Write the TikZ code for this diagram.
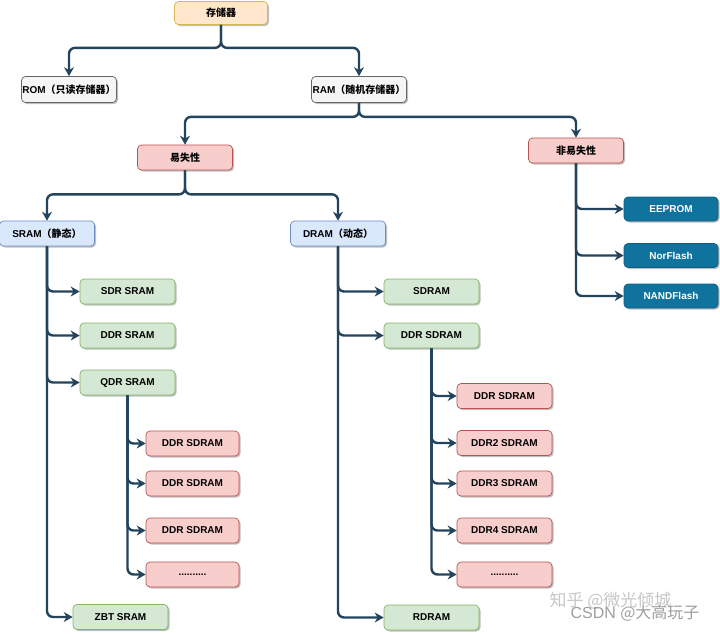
\documentclass[tikz,border=0pt]{standalone}
\usepackage{fontspec}
\setmainfont{Liberation Sans}
\newfontfamily\cjk{Noto Sans CJK SC}
\usetikzlibrary{arrows.meta,shadows}
\definecolor{arrowc}{HTML}{23445D}
\definecolor{orf}{HTML}{FFE6CC}\definecolor{ord}{HTML}{D6B656}
\definecolor{grf}{HTML}{F5F5F5}\definecolor{grd}{HTML}{666666}
\definecolor{rdf}{HTML}{F8CECC}\definecolor{rdd}{HTML}{B85450}
\definecolor{blf}{HTML}{DAE8FC}\definecolor{bld}{HTML}{6C8EBF}
\definecolor{gnf}{HTML}{D5E8D4}\definecolor{gnd}{HTML}{82B366}
\definecolor{tlf}{HTML}{10739E}\definecolor{tld}{HTML}{0D5F84}
\tikzset{
  box/.style={rounded corners=4pt, minimum width=95pt, minimum height=25pt, inner sep=0pt,
    font=\fontsize{10}{12}\selectfont\bfseries, draw, line width=0.7pt,
    drop shadow={shadow xshift=1.5pt, shadow yshift=-1.5pt, opacity=0.25, fill=black}},
  orbox/.style={box, fill=orf, draw=ord},
  grbox/.style={box, fill=grf, draw=grd},
  rdbox/.style={box, fill=rdf, draw=rdd},
  blbox/.style={box, fill=blf, draw=bld},
  gnbox/.style={box, fill=gnf, draw=gnd},
  tlbox/.style={box, fill=tlf, draw=tld, text=white},
  arr/.style={draw=arrowc, line width=2.4pt, rounded corners=6pt,
    -{Stealth[length=9pt,width=10pt,inset=3pt]}},
  wm/.style={font=\cjk\fontsize{17}{20}\selectfont}
}
\begin{document}
\begin{tikzpicture}[x=1pt,y=-1pt]
\fill[white] (0,0) rectangle (720,633);
\useasboundingbox (0,0) rectangle (720,633);
% nodes
\node[orbox, minimum width=93pt, minimum height=23pt] (top) at (221,13) {\cjk 存储器};
\node[grbox, minimum height=26pt] (rom) at (69,89.5) {ROM{\cjk（只读存储器）}};
\node[grbox, minimum height=26pt] (ram) at (359,89.5) {RAM{\cjk（随机存储器）}};
\node[rdbox] (vol) at (185,157.5) {\cjk 易失性};
\node[rdbox] (nvol) at (576,150.5) {\cjk 非易失性};
\node[blbox] (sram) at (47,233.5) {SRAM{\cjk（静态）}};
\node[blbox] (dram) at (338,233.5) {DRAM{\cjk（动态）}};
\node[tlbox, minimum width=94pt, minimum height=24pt] (eep) at (671,209) {EEPROM};
\node[tlbox, minimum width=94pt, minimum height=24pt] (nor) at (671,255.5) {NorFlash};
\node[tlbox, minimum width=94pt, minimum height=24pt] (nand) at (671,296) {NANDFlash};
\node[gnbox] (sdr) at (127.5,291.5) {SDR SRAM};
\node[gnbox] (ddrs) at (127.5,335.5) {DDR SRAM};
\node[gnbox] (qdr) at (127.5,382.5) {QDR SRAM};
\node[gnbox] (zbt) at (120.5,617) {ZBT SRAM};
\node[rdbox, minimum width=93pt] (q1) at (192.5,443.5) {DDR SDRAM};
\node[rdbox, minimum width=93pt] (q2) at (192.5,483.5) {DDR SDRAM};
\node[rdbox, minimum width=93pt] (q3) at (192.5,530.5) {DDR SDRAM};
\node[rdbox, minimum width=93pt] (q4) at (192.5,574.5) {..........};
\node[gnbox] (sdram) at (431.5,291.5) {SDRAM};
\node[gnbox] (ddrsd) at (431.5,335.5) {DDR SDRAM};
\node[gnbox] (rdram) at (431.5,617.5) {RDRAM};
\node[rdbox] (d1) at (504.5,396) {DDR SDRAM};
\node[rdbox] (d2) at (504.5,443) {DDR2 SDRAM};
\node[rdbox] (d3) at (504.5,483.5) {DDR3 SDRAM};
\node[rdbox] (d4) at (504.5,530.5) {DDR4 SDRAM};
\node[rdbox] (d5) at (504.5,574.5) {..........};
% connectors
\draw[arr] (top.south) -- ++(0,23) -| (rom.north);
\draw[arr] (top.south) -- ++(0,23) -| (ram.north);
\draw[arr] (ram.south) -- ++(0,14) -| (vol.north);
\draw[arr] (ram.south) -- ++(0,14) -| (nvol.north);
\draw[arr] (vol.south) -- ++(0,24) -| (sram.north);
\draw[arr] (vol.south) -- ++(0,24) -| (dram.north);
\foreach \t in {eep,nor,nand} \draw[arr] (nvol.south) |- (\t.west);
\foreach \t in {sdr,ddrs,qdr,zbt} \draw[arr] (sram.south) |- (\t.west);
\foreach \t in {q1,q2,q3,q4} \draw[arr] (qdr.south) |- (\t.west);
\foreach \t in {sdram,ddrsd,rdram} \draw[arr] (dram.south) |- (\t.west);
\foreach \t in {d1,d2,d3,d4,d5} \draw[arr] (ddrsd.south) |- (\t.west);
% watermarks
\node[wm, text=black!22, anchor=west] (wm1) at (546,601) {知乎 @微光倾城};
\node[wm, text=black!38, anchor=west, font=\fontsize{16}{19}\selectfont] (wm2) at (567,613) {CSDN {\cjk @大高玩子}};
\end{tikzpicture}
\end{document}
